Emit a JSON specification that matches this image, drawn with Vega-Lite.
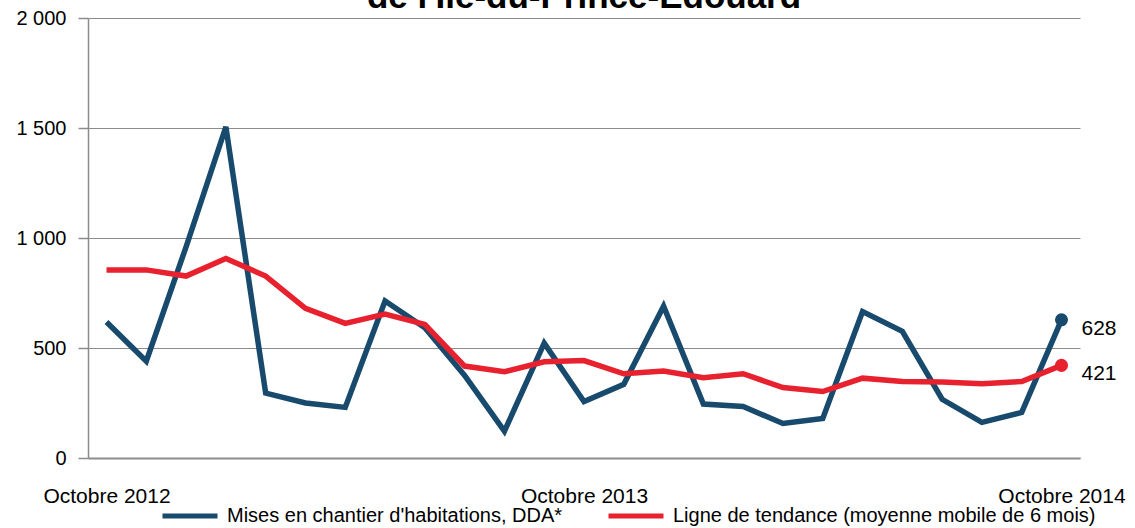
{
  "$schema": "https://vega.github.io/schema/vega-lite/v6.json",
  "width": 992,
  "height": 440,
  "autosize": {"type": "none"},
  "padding": {"left": 88, "top": 18, "right": 55, "bottom": 70},
  "background": "white",
  "title": {
    "text": "de l'Île-du-Prince-Édouard",
    "font": "Liberation Sans",
    "fontSize": 35,
    "fontWeight": "bold",
    "color": "#000000",
    "anchor": "middle",
    "baseline": "alphabetic",
    "offset": -35
  },
  "config": {
    "view": {"stroke": null},
    "font": "Liberation Sans"
  },
  "data": {
    "values": [
      {"mois": "Octobre 2012", "serie": "Mises en chantier d'habitations, DDA*", "valeur": 618},
      {"mois": "Novembre 2012", "serie": "Mises en chantier d'habitations, DDA*", "valeur": 440},
      {"mois": "Décembre 2012", "serie": "Mises en chantier d'habitations, DDA*", "valeur": 960},
      {"mois": "Janvier 2013", "serie": "Mises en chantier d'habitations, DDA*", "valeur": 1505},
      {"mois": "Février 2013", "serie": "Mises en chantier d'habitations, DDA*", "valeur": 295},
      {"mois": "Mars 2013", "serie": "Mises en chantier d'habitations, DDA*", "valeur": 250},
      {"mois": "Avril 2013", "serie": "Mises en chantier d'habitations, DDA*", "valeur": 230},
      {"mois": "Mai 2013", "serie": "Mises en chantier d'habitations, DDA*", "valeur": 714},
      {"mois": "Juin 2013", "serie": "Mises en chantier d'habitations, DDA*", "valeur": 592},
      {"mois": "Juillet 2013", "serie": "Mises en chantier d'habitations, DDA*", "valeur": 375},
      {"mois": "Août 2013", "serie": "Mises en chantier d'habitations, DDA*", "valeur": 122},
      {"mois": "Septembre 2013", "serie": "Mises en chantier d'habitations, DDA*", "valeur": 522},
      {"mois": "Octobre 2013", "serie": "Mises en chantier d'habitations, DDA*", "valeur": 257},
      {"mois": "Novembre 2013", "serie": "Mises en chantier d'habitations, DDA*", "valeur": 335},
      {"mois": "Décembre 2013", "serie": "Mises en chantier d'habitations, DDA*", "valeur": 690},
      {"mois": "Janvier 2014", "serie": "Mises en chantier d'habitations, DDA*", "valeur": 245},
      {"mois": "Février 2014", "serie": "Mises en chantier d'habitations, DDA*", "valeur": 234},
      {"mois": "Mars 2014", "serie": "Mises en chantier d'habitations, DDA*", "valeur": 157},
      {"mois": "Avril 2014", "serie": "Mises en chantier d'habitations, DDA*", "valeur": 180},
      {"mois": "Mai 2014", "serie": "Mises en chantier d'habitations, DDA*", "valeur": 666},
      {"mois": "Juin 2014", "serie": "Mises en chantier d'habitations, DDA*", "valeur": 576},
      {"mois": "Juillet 2014", "serie": "Mises en chantier d'habitations, DDA*", "valeur": 267},
      {"mois": "Août 2014", "serie": "Mises en chantier d'habitations, DDA*", "valeur": 162},
      {"mois": "Septembre 2014", "serie": "Mises en chantier d'habitations, DDA*", "valeur": 207},
      {"mois": "Octobre 2014", "serie": "Mises en chantier d'habitations, DDA*", "valeur": 628},
      {"mois": "Octobre 2012", "serie": "Ligne de tendance (moyenne mobile de 6 mois)", "valeur": 855},
      {"mois": "Novembre 2012", "serie": "Ligne de tendance (moyenne mobile de 6 mois)", "valeur": 855},
      {"mois": "Décembre 2012", "serie": "Ligne de tendance (moyenne mobile de 6 mois)", "valeur": 827},
      {"mois": "Janvier 2013", "serie": "Ligne de tendance (moyenne mobile de 6 mois)", "valeur": 907},
      {"mois": "Février 2013", "serie": "Ligne de tendance (moyenne mobile de 6 mois)", "valeur": 827},
      {"mois": "Mars 2013", "serie": "Ligne de tendance (moyenne mobile de 6 mois)", "valeur": 680},
      {"mois": "Avril 2013", "serie": "Ligne de tendance (moyenne mobile de 6 mois)", "valeur": 612},
      {"mois": "Mai 2013", "serie": "Ligne de tendance (moyenne mobile de 6 mois)", "valeur": 654},
      {"mois": "Juin 2013", "serie": "Ligne de tendance (moyenne mobile de 6 mois)", "valeur": 607},
      {"mois": "Juillet 2013", "serie": "Ligne de tendance (moyenne mobile de 6 mois)", "valeur": 418},
      {"mois": "Août 2013", "serie": "Ligne de tendance (moyenne mobile de 6 mois)", "valeur": 392},
      {"mois": "Septembre 2013", "serie": "Ligne de tendance (moyenne mobile de 6 mois)", "valeur": 437},
      {"mois": "Octobre 2013", "serie": "Ligne de tendance (moyenne mobile de 6 mois)", "valeur": 443},
      {"mois": "Novembre 2013", "serie": "Ligne de tendance (moyenne mobile de 6 mois)", "valeur": 383},
      {"mois": "Décembre 2013", "serie": "Ligne de tendance (moyenne mobile de 6 mois)", "valeur": 395},
      {"mois": "Janvier 2014", "serie": "Ligne de tendance (moyenne mobile de 6 mois)", "valeur": 365},
      {"mois": "Février 2014", "serie": "Ligne de tendance (moyenne mobile de 6 mois)", "valeur": 383},
      {"mois": "Mars 2014", "serie": "Ligne de tendance (moyenne mobile de 6 mois)", "valeur": 320},
      {"mois": "Avril 2014", "serie": "Ligne de tendance (moyenne mobile de 6 mois)", "valeur": 302},
      {"mois": "Mai 2014", "serie": "Ligne de tendance (moyenne mobile de 6 mois)", "valeur": 363},
      {"mois": "Juin 2014", "serie": "Ligne de tendance (moyenne mobile de 6 mois)", "valeur": 348},
      {"mois": "Juillet 2014", "serie": "Ligne de tendance (moyenne mobile de 6 mois)", "valeur": 346},
      {"mois": "Août 2014", "serie": "Ligne de tendance (moyenne mobile de 6 mois)", "valeur": 338},
      {"mois": "Septembre 2014", "serie": "Ligne de tendance (moyenne mobile de 6 mois)", "valeur": 348},
      {"mois": "Octobre 2014", "serie": "Ligne de tendance (moyenne mobile de 6 mois)", "valeur": 421}
    ]
  },
  "encoding": {
    "x": {
      "field": "mois",
      "type": "ordinal",
      "sort": null,
      "scale": {"type": "point", "padding": 0.465},
      "axis": {
        "title": null,
        "values": ["Octobre 2012", "Octobre 2013", "Octobre 2014"],
        "labelAngle": 0,
        "labelFont": "Liberation Sans",
        "labelFontSize": 21,
        "labelColor": "#000000",
        "labelPadding": 27,
        "ticks": false,
        "domainColor": "#8c8c8c",
        "domainWidth": 2,
        "grid": false
      }
    },
    "y": {
      "field": "valeur",
      "type": "quantitative",
      "scale": {"domain": [0, 2000], "nice": false, "zero": true},
      "axis": {
        "title": null,
        "values": [0, 500, 1000, 1500, 2000],
        "labelExpr": "replace(format(datum.value, ',d'), ',', ' ')",
        "labelFont": "Liberation Sans",
        "labelFontSize": 20,
        "labelColor": "#000000",
        "labelPadding": 12,
        "tickSize": 10,
        "tickColor": "#8c8c8c",
        "tickWidth": 1.5,
        "domainColor": "#8c8c8c",
        "domainWidth": 1.5,
        "grid": true,
        "gridColor": "#8c8c8c",
        "gridWidth": 1.2
      }
    }
  },
  "layer": [
    {
      "mark": {"type": "line", "strokeWidth": 5.5, "strokeJoin": "miter", "strokeCap": "butt"},
      "encoding": {
        "color": {
          "field": "serie",
          "type": "nominal",
          "scale": {
            "domain": ["Mises en chantier d'habitations, DDA*", "Ligne de tendance (moyenne mobile de 6 mois)"],
            "range": ["#174a6c", "#e8212f"]
          },
          "legend": {
            "title": null,
            "orient": "none",
            "legendX": 72,
            "legendY": 468,
            "direction": "horizontal",
            "symbolType": "stroke",
            "symbolSize": 3025,
            "symbolStrokeWidth": 5,
            "labelFont": "Liberation Sans",
            "labelFontSize": 20,
            "labelColor": "#000000",
            "labelOffset": 7,
            "labelLimit": 600,
            "columnPadding": 35
          }
        }
      }
    },
    {
      "transform": [{"filter": "datum.mois === 'Octobre 2014'"}],
      "mark": {"type": "circle", "size": 170, "opacity": 1},
      "encoding": {
        "fill": {
          "field": "serie",
          "type": "nominal",
          "scale": {
            "domain": ["Mises en chantier d'habitations, DDA*", "Ligne de tendance (moyenne mobile de 6 mois)"],
            "range": ["#174a6c", "#e8212f"]
          },
          "legend": null
        }
      }
    },
    {
      "transform": [{"filter": "datum.mois === 'Octobre 2014'"}],
      "mark": {"type": "text", "align": "left", "baseline": "middle", "dx": 20, "dy": 9, "fontSize": 21, "font": "Liberation Sans", "color": "#000000"},
      "encoding": {
        "text": {"field": "valeur", "type": "quantitative"}
      }
    }
  ]
}
